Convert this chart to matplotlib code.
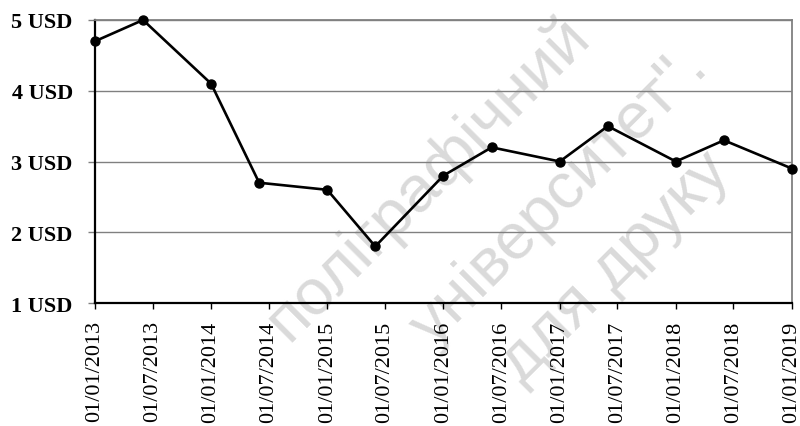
import matplotlib
matplotlib.use('Agg')
import matplotlib.pyplot as plt
import matplotlib.dates as mdates
import numpy as np
from datetime import datetime

# курс, USD
dates = ['2013-01-01', '2013-06-01', '2014-01-01', '2014-06-01', '2015-01-01',
         '2015-06-01', '2016-01-01', '2016-06-01', '2017-01-01', '2017-06-01',
         '2018-01-01', '2018-06-01', '2019-01-01']
prices = [4.7, 5.0, 4.1, 2.7, 2.6, 1.8, 2.8, 3.2, 3.0, 3.5, 3.0, 3.3, 2.9]

tick_dates = ['2013-01-01', '2013-07-01', '2014-01-01', '2014-07-01', '2015-01-01',
              '2015-07-01', '2016-01-01', '2016-07-01', '2017-01-01', '2017-07-01',
              '2018-01-01', '2018-07-01', '2019-01-01']
y_ticks = [1, 2, 3, 4, 5]
y_labels = ['1 USD', '2 USD', '3 USD', '4 USD', '5 USD']

# водяний знак
wm_lines = ['поліграфічний', 'університет".', 'для друку']
wm_pos = [(428, 178), (560, 197), (615, 268)]

x = [datetime.strptime(d, '%Y-%m-%d') for d in dates]
xt = [datetime.strptime(d, '%Y-%m-%d') for d in tick_dates]

plt.rcParams['font.family'] = ['Liberation Serif', 'DejaVu Serif']

fig = plt.figure(figsize=(8, 4.27), dpi=100)
ax = fig.add_axes([95/800, 1-304/427, (792-95)/800, (304-21)/427])
ax.set_facecolor('none')
ax.set_zorder(1)

for txt, (px, py) in zip(wm_lines, wm_pos):
    fig.text(px/800, 1-py/427, txt, fontsize=47, color='#dadada', rotation=45,
             rotation_mode='anchor', ha='center', va='center',
             family=['Liberation Sans', 'DejaVu Sans'], zorder=0)

ax.plot(x, prices, color='black', linewidth=1.9, marker='o', markersize=6.5,
        clip_on=False, zorder=3)

ax.set_xlim(xt[0], xt[-1])
ax.set_ylim(1, 5)
ax.set_yticks(y_ticks)
ax.set_yticklabels(y_labels, fontweight='bold', fontsize=16)
ax.set_xticks(xt)
ax.set_xticklabels([d.strftime('%d/%m/%Y') for d in xt], rotation=90, fontsize=16)
ax.grid(axis='y', color='#808080', linewidth=1.0)

ax.tick_params(axis='y', direction='out', length=5, width=1, color='#808080', pad=11)
ax.tick_params(axis='x', direction='out', length=4.5, width=1, color='black', pad=8)

for side in ['left', 'bottom']:
    ax.spines[side].set_color('black')
    ax.spines[side].set_linewidth(1.6)
for side in ['top', 'right']:
    ax.spines[side].set_color('#808080')
    ax.spines[side].set_linewidth(1.3)

plt.savefig('out.png', dpi=100)
